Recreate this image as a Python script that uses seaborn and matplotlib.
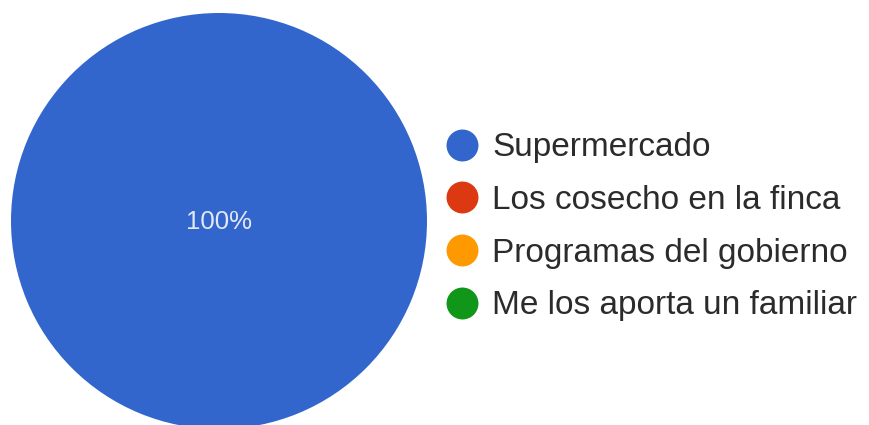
import matplotlib
matplotlib.use("Agg")
import matplotlib.pyplot as plt
from matplotlib.lines import Line2D
import seaborn as sns

# Response shares (percent)
categories = [
    "Supermercado",
    "Los cosecho en la finca",
    "Programas del gobierno",
    "Me los aporta un familiar",
]
values = [100, 0, 0, 0]
colors = ["#3366CC", "#DC3912", "#FF9900", "#109618"]

sns.set_theme(style="white")
plt.rcParams["font.family"] = ["Liberation Sans", "DejaVu Sans"]
palette = sns.color_palette(colors)

W, H = 869, 425
fig = plt.figure(figsize=(W / 100, H / 100), dpi=100)
ax = fig.add_axes([0, 0, 1, 1])

total = sum(values)
ax.pie(
    values,
    colors=palette,
    center=(219, 221),
    radius=208,
    startangle=90,
    counterclock=False,
    frame=True,
    wedgeprops=dict(linewidth=0),
)
ax.set_xlim(0, W)
ax.set_ylim(H, 0)
ax.set_aspect("auto")
ax.axis("off")

# Percentage label for the non-empty slice
for v in values:
    if v > 0:
        ax.text(219, 222, f"{v / total * 100:.0f}%", ha="center", va="center",
                color="#E3E8F5", fontsize=18.5)

handles = [
    Line2D([], [], marker="o", linestyle="", markersize=23,
           markerfacecolor=c, markeredgewidth=0)
    for c in palette
]
ax.legend(
    handles, categories,
    loc="center left",
    bbox_to_anchor=(445 / W, 1 - 227 / H),
    bbox_transform=fig.transFigure,
    frameon=False,
    fontsize=24,
    labelcolor="#2b2b2b",
    handlelength=1.0,
    handletextpad=0.41,
    labelspacing=0.65,
    borderaxespad=0,
    borderpad=0,
)

fig.savefig("out.png", dpi=100, facecolor="white")
